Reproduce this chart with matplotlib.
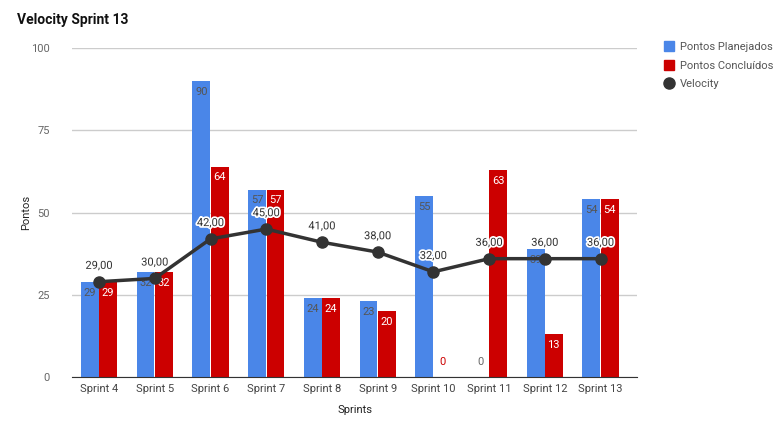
import matplotlib.pyplot as plt
import matplotlib.patheffects as pe
from matplotlib.lines import Line2D
import numpy as np

plt.rcParams['font.family'] = ['Roboto', 'DejaVu Sans']

sprints = ['Sprint 4', 'Sprint 5', 'Sprint 6', 'Sprint 7', 'Sprint 8',
           'Sprint 9', 'Sprint 10', 'Sprint 11', 'Sprint 12', 'Sprint 13']
planejados = [29, 32, 90, 57, 24, 23, 55, 0, 39, 54]
concluidos = [29, 32, 64, 57, 24, 20, 0, 63, 13, 54]
velocity = [29, 30, 42, 45, 41, 38, 32, 36, 36, 36]

azul = '#4a86e8'
vermelho = '#cc0000'
escuro = '#333333'

fig = plt.figure(figsize=(7.77, 4.33), dpi=100)
ax = fig.add_axes([0.0927, 0.129, 0.7272, 0.760])

x = np.arange(len(sprints))
w = 0.32
ax.bar(x - w/2 - 0.005, planejados, width=w, color=azul, zorder=2)
ax.bar(x + w/2 + 0.005, concluidos, width=w, color=vermelho, zorder=2)
ax.plot(x, velocity, color=escuro, lw=2.5, marker='o', ms=8, zorder=4)

# rotulos das barras
for xi, v in zip(x, planejados):
    if v == 0:
        ax.text(xi - w/2, 3, '0', ha='center', va='bottom', fontsize=8, color='#666666', zorder=3)
    else:
        ax.text(xi - w/2, v - 1.8, str(v), ha='center', va='top', fontsize=8, color='#555555', zorder=3)
for xi, v in zip(x, concluidos):
    if v == 0:
        ax.text(xi + w/2, 3, '0', ha='center', va='bottom', fontsize=8, color=vermelho, zorder=3)
    else:
        ax.text(xi + w/2, v - 1.8, str(v), ha='center', va='top', fontsize=8, color='white', zorder=3)
for xi, v in zip(x, velocity):
    t = ax.text(xi, v + 3.3, '%d,00' % v, ha='center', va='bottom', fontsize=8, color=escuro, zorder=5)
    t.set_path_effects([pe.withStroke(linewidth=2.5, foreground='white')])

ax.set_xlim(-0.485, 9.655)
ax.set_ylim(0, 100)
ax.set_yticks([0, 25, 50, 75, 100])
ax.set_xticks(x)
ax.set_xticklabels(sprints)
ax.grid(axis='y', color='#cccccc', lw=1, zorder=0)
ax.tick_params(axis='both', length=0, labelsize=8, colors='#444444')
ax.tick_params(axis='x', pad=5)
ax.tick_params(axis='y', pad=16, colors='#666666')
for s in ['top', 'right', 'left']:
    ax.spines[s].set_visible(False)
ax.spines['bottom'].set_color('#333333')
ax.spines['bottom'].set_zorder(5)
ax.set_ylabel('Pontos', fontsize=8, color='#222222', labelpad=0)
ax.set_xlabel('Sprints', fontsize=8, color='#222222', labelpad=8)

fig.text(0.022, 0.953, 'Velocity Sprint 13', fontsize=10, fontweight='bold', va='center', color='#111111')

handles = [
    Line2D([], [], ls='none', marker='s', ms=7, color=azul, label='Pontos Planejados'),
    Line2D([], [], ls='none', marker='s', ms=7, color=vermelho, label='Pontos Concluídos'),
    Line2D([], [], ls='none', marker='o', ms=8, color=escuro, label='Velocity'),
]
fig.legend(handles=handles, loc='upper left', bbox_to_anchor=(0.848, 0.915), frameon=False, fontsize=8,
           labelcolor='#555555', handlelength=0.8, handletextpad=0.6, labelspacing=0.75,
           borderpad=0)

fig.savefig('out.png', dpi=100)
